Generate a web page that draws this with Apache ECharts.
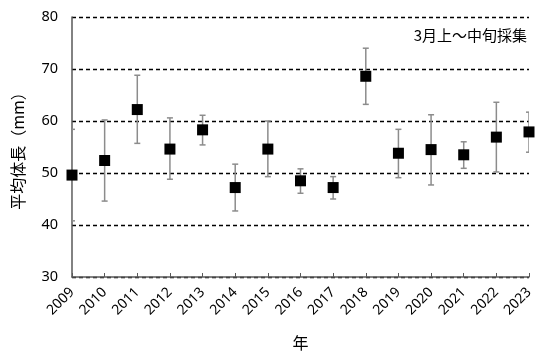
<!DOCTYPE html>
<html><head><meta charset="utf-8">
<script src="https://cdn.jsdelivr.net/npm/echarts@6/dist/echarts.min.js"></script>
<style>html,body{margin:0;padding:0;background:#fff}#c{width:540px;height:356px}</style>
</head><body><div id="c"></div>
<script>
const years = [2009,2010,2011,2012,2013,2014,2015,2016,2017,2018,2019,2020,2021,2022,2023];
const means = [49.6,52.4,62.2,54.6,58.3,47.2,54.6,48.5,47.2,68.6,53.8,54.5,53.5,56.9,57.9];
const upper = [58.4,60.2,68.8,60.6,61.1,51.7,60.0,50.8,49.3,74.0,58.4,61.2,56.0,63.6,61.7];
const lower = [40.8,44.6,55.7,48.8,55.4,42.7,49.3,46.1,45.0,63.2,49.1,47.7,50.9,50.2,54.0];
const yTicks = [30,40,50,60,70,80];
const yTitle = '平均体長（mm）';
const xTitle = '年';
const note = '3月上～中旬採集';

const font = '"Noto Sans CJK JP", "Noto Sans", sans-serif';
const chart = echarts.init(document.getElementById('c'));
chart.setOption({
  animation: false,
  textStyle: {fontFamily: font},
  grid: {left: 72, right: 11, top: 17, bottom: 76},
  graphic: [{type: 'text', right: 13, top: 28, style: {text: note, font: '15px ' + font, fill: '#000'}}],
  xAxis: {
    type: 'value', min: years[0], max: years[years.length - 1], interval: 1,
    name: xTitle, nameLocation: 'middle', nameGap: 58,
    nameTextStyle: {fontSize: 16, color: '#000', fontFamily: font},
    axisLine: {lineStyle: {color: '#595959', width: 1.5}},
    axisTick: {inside: true, length: 4, lineStyle: {color: '#595959', width: 1}},
    axisLabel: {rotate: 45, fontSize: 14, color: '#000', margin: 13, fontFamily: '"Noto Sans", sans-serif', formatter: v => String(v)},
    splitLine: {show: false}
  },
  yAxis: {
    type: 'value', min: yTicks[0], max: yTicks[yTicks.length - 1], interval: 10,
    name: yTitle, nameLocation: 'middle', nameGap: 46,
    nameTextStyle: {fontSize: 16, color: '#000', fontFamily: font},
    axisLine: {show: true, lineStyle: {color: '#595959', width: 1.5}},
    axisTick: {show: false},
    axisLabel: {fontSize: 14.5, color: '#000', margin: 14, fontFamily: '"Noto Sans", sans-serif'},
    splitLine: {show: true, lineStyle: {color: '#000', type: [4, 3], width: 1.3}}
  },
  series: [
    {
      type: 'custom', z: 2, clip: true,
      data: years.map((y, i) => [y, lower[i], upper[i]]),
      encode: {x: 0, y: [1, 2]},
      renderItem: (params, api) => {
        const x = api.value(0);
        const lo = api.coord([x, api.value(1)]);
        const hi = api.coord([x, api.value(2)]);
        const w = 3;
        const st = {stroke: '#8c8c8c', lineWidth: 1.5};
        return {type: 'group', children: [
          {type: 'line', shape: {x1: lo[0], y1: lo[1], x2: hi[0], y2: hi[1]}, style: st},
          {type: 'line', shape: {x1: lo[0] - w, y1: lo[1], x2: lo[0] + w, y2: lo[1]}, style: st},
          {type: 'line', shape: {x1: hi[0] - w, y1: hi[1], x2: hi[0] + w, y2: hi[1]}, style: st}
        ]};
      }
    },
    {
      type: 'scatter', z: 3, symbol: 'rect', symbolSize: 11,
      itemStyle: {color: '#000', opacity: 1},
      data: years.map((y, i) => [y, means[i]])
    }
  ]
});
</script></body></html>
